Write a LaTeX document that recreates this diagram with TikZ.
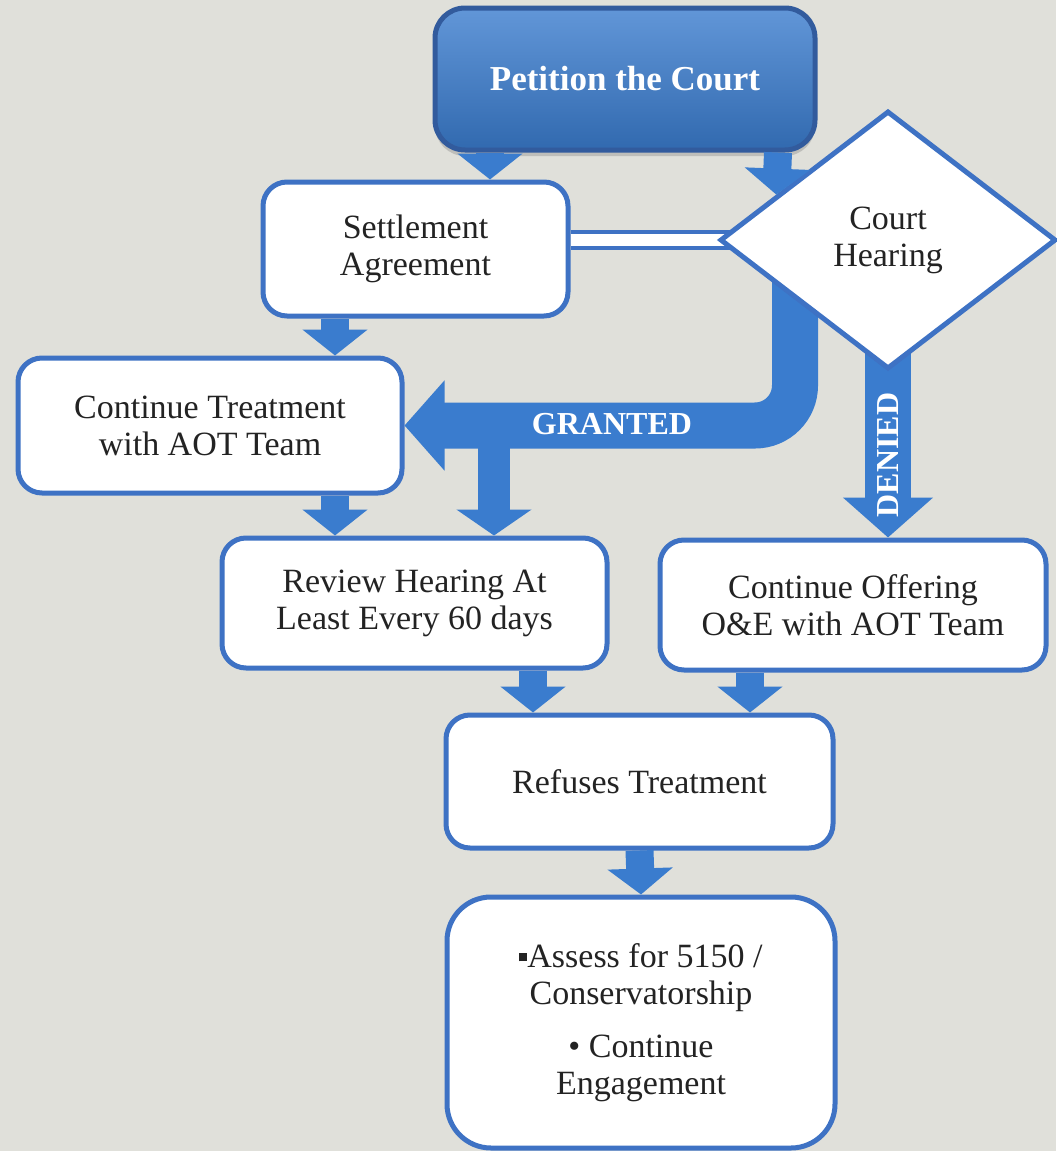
\documentclass[tikz,border=0pt]{standalone}
\usepackage{fontspec}
\setmainfont{Liberation Serif}
\usetikzlibrary{positioning,calc,shapes.geometric,arrows.meta,shadows}
\definecolor{bgcol}{RGB}{224,224,218}
\definecolor{boxblue}{RGB}{62,114,196}
\definecolor{arrblue}{RGB}{58,124,206}
\definecolor{txt}{RGB}{35,35,35}
\tikzstyle{box} = [draw=boxblue, fill=white, line width=2.5pt, rounded corners=12pt, inner sep=0pt, align=center, text=txt, font=\fontsize{17}{18.5}\selectfont]
\tikzstyle{decision} = [diamond, draw=boxblue, fill=white, line width=2.5pt, minimum width=168pt, minimum height=129pt, inner sep=0pt, align=center, text=txt, font=\fontsize{17}{18.5}\selectfont]
\tikzstyle{blk} = [-{Triangle[length=13pt,width=32pt]}, draw=arrblue, line width=14pt]
\tikzstyle{big} = [-{Triangle[length=20pt,width=44pt]}, draw=arrblue, line width=23pt]
\tikzstyle{link} = [draw=boxblue, double=white, double distance=6pt, line width=1.8pt]
\tikzstyle{lbl} = [text=white, font=\bfseries\fontsize{16}{18}\selectfont]

\begin{document}
\begin{tikzpicture}[x=0.5pt, y=-0.5pt]
	\useasboundingbox (0,0) rectangle (1056,1151);
	\fill[bgcol] (0,0) rectangle (1056,1151);
	% boxes
	\node (petition) [box, top color=arrblue!80!white, bottom color=arrblue!85!black, draw=boxblue!80!black, rounded corners=15pt, minimum width=190pt, minimum height=71pt, drop shadow={shadow xshift=0pt, shadow yshift=-3pt, opacity=0.35}, text=white, font=\bfseries\fontsize{17.5}{20}\selectfont] at (625,79) {Petition the Court};
	\node (settle) [box, minimum width=152.5pt, minimum height=67pt] at (415.5,249) {Settlement\\Agreement};
	\node (ctreat) [box, minimum width=192pt, minimum height=67.5pt] at (210,425.5) {Continue Treatment\\with AOT Team};
	\node (review) [box, minimum width=192.5pt, minimum height=65pt] at (414.5,603) {Review Hearing At\\Least Every 60 days};
	\node (offer) [box, minimum width=193pt, minimum height=65pt] at (853,605) {Continue Offering\\O\&E with AOT Team};
	\node (refuse) [box, minimum width=193.5pt, minimum height=66.5pt] at (639.5,781.5) {Refuses Treatment};
	\node (final) [box, rounded corners=22pt, minimum width=194pt, minimum height=125.5pt] at (641,1022.5) {\rule[3pt]{4pt}{4pt}Assess for 5150 /\\Conservatorship\\[8pt]\textbullet{} Continue\\Engagement};
	\coordinate (courtc) at (888,240);
	% court hearing outcomes
	\draw [link] (settle.east |- courtc) -- (courtc);
	\draw [big, rounded corners=20pt] (795,0 |- courtc) -- (795,0 |- ctreat.east) -- (ctreat.east);
	\draw [blk, line width=16pt, -{Triangle[length=13pt,width=37pt]}] (494,0 |- ctreat.east) -- (494,0 |- review.north);
	\draw [big] (courtc) -- (courtc |- offer.north);
	\node (court) [decision] at (courtc) {Court\\Hearing};
	\node (granted) [lbl] at (612,424) {GRANTED};
	\node (denied) [lbl, rotate=90] at (888,455) {DENIED};
	% small arrows
	\draw [blk] (490,0 |- petition.south) -- (490,0 |- settle.north);
	\draw [blk] (778,0 |- petition.south) -- ($(court.west)!0.345!(court.north)$);
	\draw [blk] (335,0 |- settle.south) -- (335,0 |- ctreat.north);
	\draw [blk] (335,0 |- ctreat.south) -- (335,0 |- review.north);
	\draw [blk] (533,0 |- review.south) -- (533,0 |- refuse.north);
	\draw [blk] (750,0 |- offer.south) -- (750,0 |- refuse.north);
	\draw [blk] (refuse.south) -- (final.north);
\end{tikzpicture}
\end{document}
